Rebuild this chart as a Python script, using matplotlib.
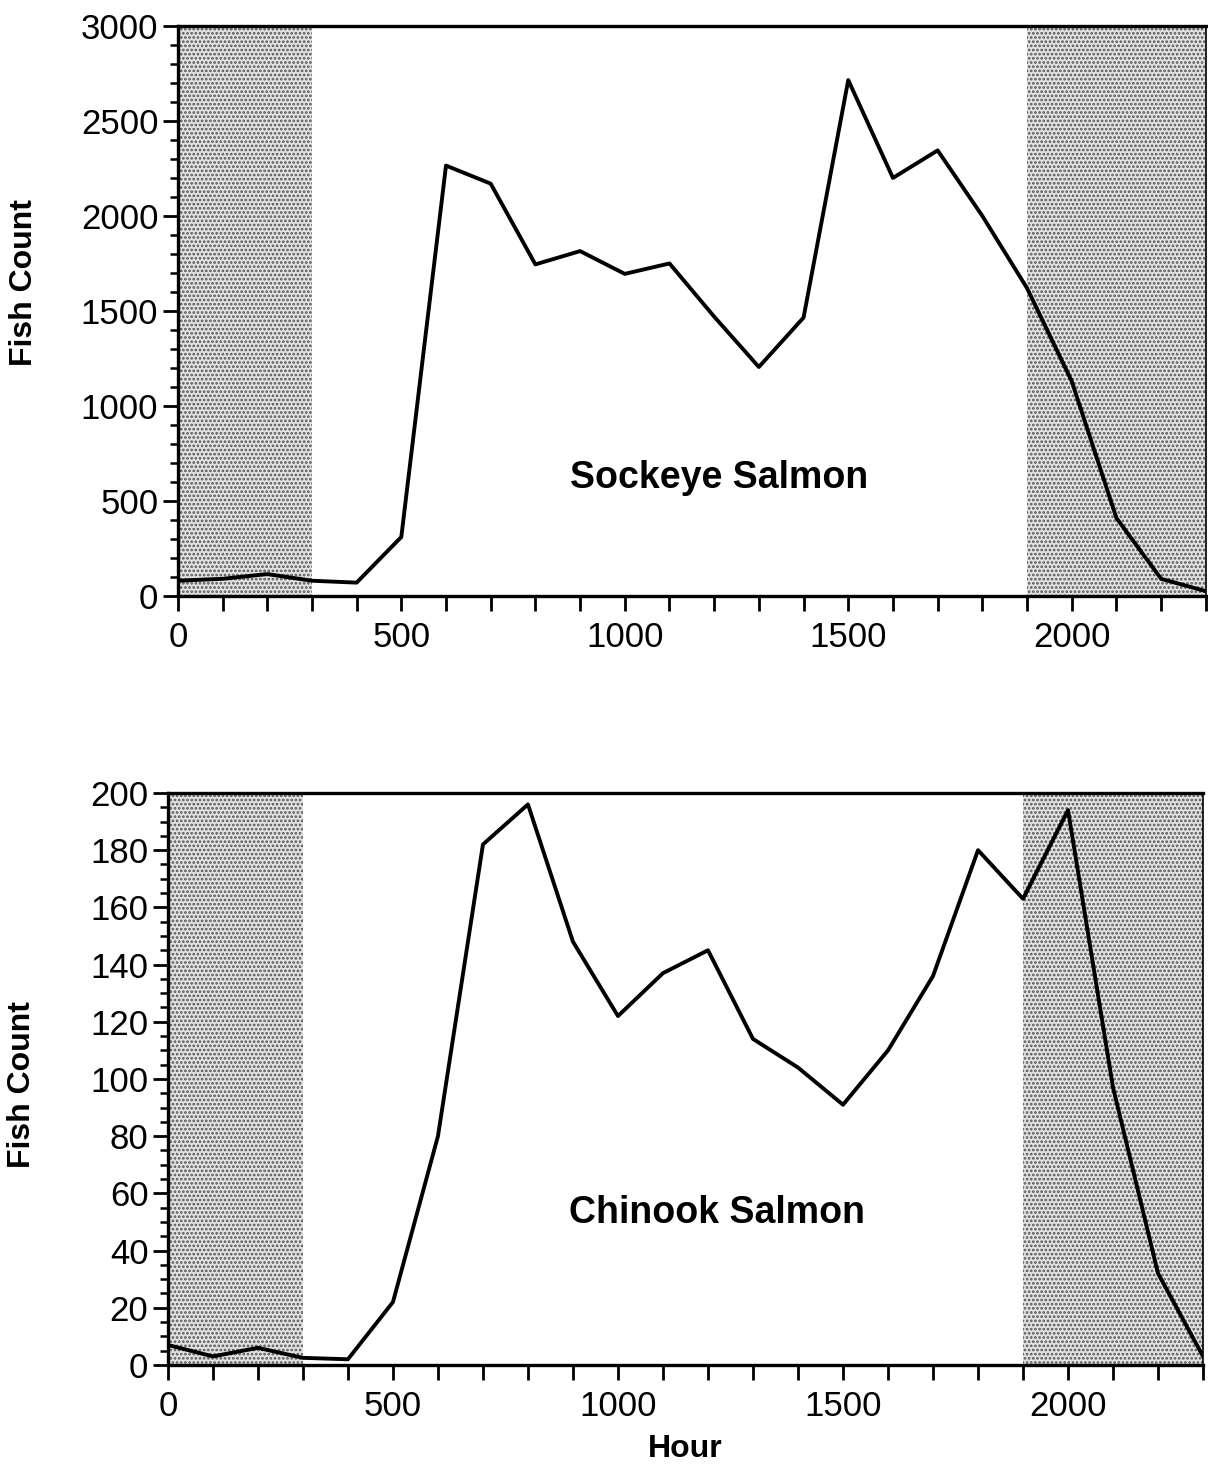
import numpy as np
import matplotlib.pyplot as plt
from matplotlib.ticker import MultipleLocator

# hourly fish counts, hour of day as HHMM
hours = [0, 100, 200, 300, 400, 500, 600, 700, 800, 900, 1000, 1100,
         1200, 1300, 1400, 1500, 1600, 1700, 1800, 1900, 2000, 2100, 2200, 2300]

sockeye = [80, 90, 115, 80, 70, 310, 2265, 2170, 1745, 1815, 1695, 1750,
           1470, 1205, 1465, 2715, 2200, 2345, 2000, 1620, 1130, 410, 90, 25]

chinook = [7, 3, 6, 2.5, 2, 22, 80, 182, 196, 148, 122, 137,
           145, 114, 104, 91, 110, 136, 180, 163, 194, 97, 32, 3]

# darkness periods
night = [(0, 300), (1900, 2300)]

plt.rcParams['font.family'] = ['Liberation Sans', 'DejaVu Sans']
plt.rcParams['hatch.linewidth'] = 1.3
plt.rcParams['hatch.color'] = '#555555'

fig = plt.figure(figsize=(12.08, 14.66), dpi=100)
ax1 = fig.add_axes([0.1472, 0.5935, 0.8510, 0.3888])
ax2 = fig.add_axes([0.1390, 0.0689, 0.8569, 0.3902])


def style_axis(ax, ymax, ymajor, yminor):
    for a, b in night:
        ax.axvspan(a, b, facecolor='#e2e2e2', edgecolor='#555555',
                   hatch='....', linewidth=0, zorder=1)
    ax.set_xlim(0, 2300)
    ax.set_ylim(0, ymax)
    ax.xaxis.set_major_locator(MultipleLocator(500))
    ax.xaxis.set_minor_locator(MultipleLocator(100))
    ax.yaxis.set_major_locator(MultipleLocator(ymajor))
    ax.yaxis.set_minor_locator(MultipleLocator(yminor))
    ax.tick_params(axis='x', which='both', direction='out', length=11,
                   width=2, labelsize=25, pad=7)
    ax.tick_params(axis='y', which='major', direction='out', length=11,
                   width=2, labelsize=25, pad=3)
    ax.tick_params(axis='y', which='minor', direction='out', length=6,
                   width=1.8)
    for side in ['left', 'bottom', 'top']:
        ax.spines[side].set_linewidth(2.4)
    ax.spines['right'].set_linewidth(1.2)
    ax.set_ylabel('Fish Count', fontsize=23, fontweight='bold')


style_axis(ax1, 3000, 500, 100)
ax1.plot(hours, sockeye, color='black', linewidth=2.8, zorder=3)
ax1.text(1210, 620, 'Sockeye Salmon', fontsize=27, fontweight='bold',
         ha='center', va='center')
ax1.yaxis.set_label_coords(-0.135, 0.55)

style_axis(ax2, 200, 20, 5)
ax2.plot(hours, chinook, color='black', linewidth=2.8, zorder=3)
ax2.text(1220, 53, 'Chinook Salmon', fontsize=27, fontweight='bold',
         ha='center', va='center')
ax2.set_xlabel('Hour', fontsize=23, fontweight='bold', labelpad=8)
ax2.yaxis.set_label_coords(-0.126, 0.49)

fig.savefig('out.png', dpi=100)
